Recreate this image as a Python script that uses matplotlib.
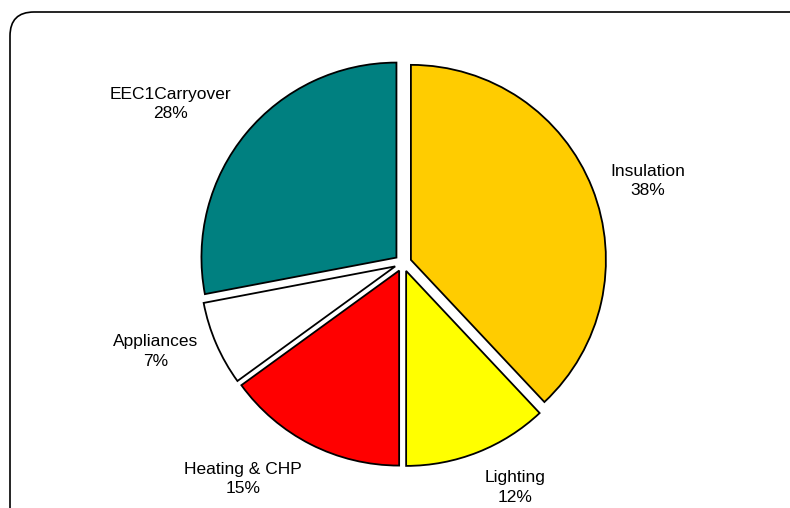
import numpy as np
import matplotlib
matplotlib.use("Agg")
import matplotlib.pyplot as plt
from matplotlib.patches import FancyBboxPatch

categories = ["Insulation", "Lighting", "Heating & CHP", "Appliances", "EEC1Carryover"]
values = [38, 12, 15, 7, 28]
colors = ["#FFCC00", "#FFFF00", "#FF0000", "#FFFFFF", "#008080"]

plt.rcParams['font.family'] = ['Liberation Sans', 'DejaVu Sans']

W, H = 790, 508
fig = plt.figure(figsize=(W / 100, H / 100), dpi=100)
ax = fig.add_axes([0, 0, 1, 1])

# rounded border
box = FancyBboxPatch((10, -60), 820, 496 + 60, boxstyle="round,pad=0,rounding_size=24",
                     fill=False, edgecolor='black', linewidth=1.2, transform=ax.transData,
                     clip_on=False)
ax.add_patch(box)

R = 195
cx, cy = 403, H - 263
expl = 8.5  # offset in data (pixel) units
wedges, _ = ax.pie(values, colors=colors, startangle=90, counterclock=False,
                   radius=R, center=(cx, cy), explode=[expl] * len(values),
                   wedgeprops=dict(edgecolor='black', linewidth=1.3), frame=True)
ax.set_xlim(0, W)
ax.set_ylim(0, H)
ax.set_aspect('equal')
ax.axis('off')

total = sum(values)
for w, cat, v in zip(wedges, categories, values):
    ang = np.deg2rad((w.theta1 + w.theta2) / 2)
    c, s = np.cos(ang), np.sin(ang)
    r = R * 1.1 + expl
    x, y = cx + r * c, cy + r * s
    ha = 'left' if c > 0.1 else ('right' if c < -0.1 else 'center')
    va = 'bottom' if s > 0.5 else ('top' if s < -0.5 else 'center')
    ax.text(x, y, f"{cat}\n{round(100 * v / total)}%", ha=ha, va=va,
            multialignment='center', fontsize=12.5, linespacing=1.35, color='black')

fig.savefig("out.png", dpi=100)
